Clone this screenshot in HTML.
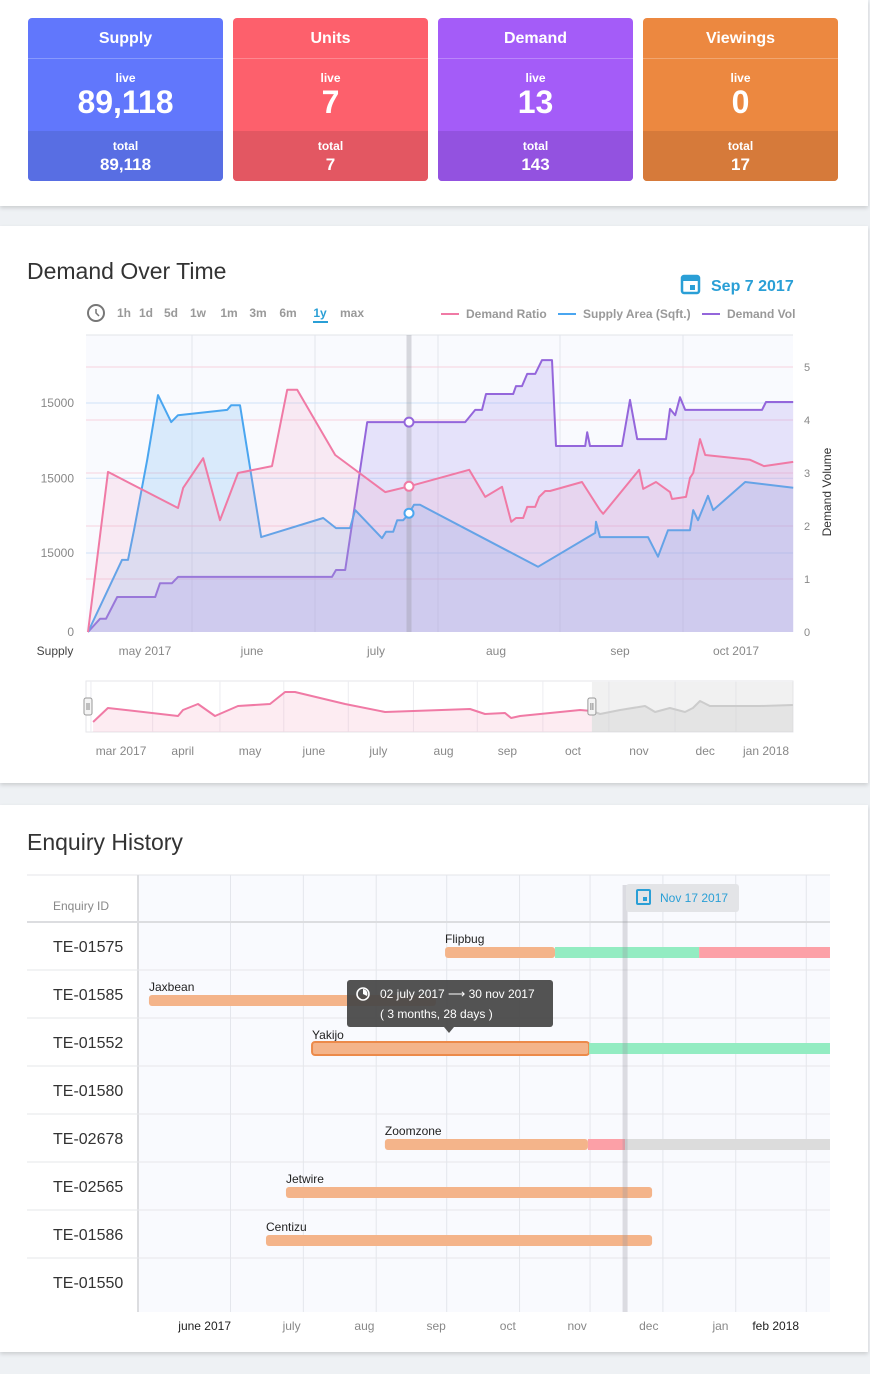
<!DOCTYPE html>
<html><head><meta charset="utf-8"><style>
*{box-sizing:border-box;margin:0;padding:0}
body{width:870px;height:1374px;background:#eef1f4;font-family:"Liberation Sans",sans-serif;position:relative;overflow:hidden}
.panel{position:absolute;left:0;width:868px;background:#fff;box-shadow:0 2px 4px rgba(0,0,0,.15)}
.card{position:absolute;top:18px;width:195px;height:163px;border-radius:4px;color:#fff;text-align:center;overflow:hidden}
.card .t{height:41px;line-height:42px;font-weight:bold;font-size:16px;border-bottom:1px solid rgba(255,255,255,.25)}
.card .l{font-size:12px;font-weight:bold;margin-top:12px}
.card .v{font-size:32px;font-weight:bold;line-height:34px}
.card .b{position:absolute;left:0;right:0;bottom:0;height:50px;padding-top:8px}
.card .b div{font-size:12px;font-weight:bold}
.card .b .n{font-size:17px;margin-top:2px}
h2{position:absolute;left:27px;font-weight:normal;font-size:23px;color:#333}
text{font-family:"Liberation Sans",sans-serif}
</style></head><body>
<div class="panel" style="top:0;height:206px">
 <div class="card" style="left:28px;background:#6177fc"><div class="t">Supply</div><div class="l">live</div><div class="v">89,118</div><div class="b" style="background:#586ee3"><div>total</div><div class="n">89,118</div></div></div>
 <div class="card" style="left:233px;background:#fd606c"><div class="t">Units</div><div class="l">live</div><div class="v">7</div><div class="b" style="background:#e35762"><div>total</div><div class="n">7</div></div></div>
 <div class="card" style="left:438px;background:#a45cf8"><div class="t">Demand</div><div class="l">live</div><div class="v">13</div><div class="b" style="background:#9352e0"><div>total</div><div class="n">143</div></div></div>
 <div class="card" style="left:643px;background:#ec8840"><div class="t">Viewings</div><div class="l">live</div><div class="v">0</div><div class="b" style="background:#d67a3a"><div>total</div><div class="n">17</div></div></div>
</div>
<div class="panel" style="top:226px;height:557px">
 <h2 style="top:32px">Demand Over Time</h2>
</div>
<div class="panel" style="top:805px;height:547px">
 <h2 style="top:24px">Enquiry History</h2>
</div>
<svg id="main" width="870" height="1374" style="position:absolute;left:0;top:0" xmlns="http://www.w3.org/2000/svg"></svg>
<script>
// ---- Demand chart data (x = days from start, y = right-axis units) ----
const pinkX=[0.5,5.5,23,24.3,29.3,33.5,38,46.5,50.3,52.8,62.3,74.8,80.8,95.8,99.8,104,106.3,107.5,109.3,110.3,112.3,113.3,114.8,116,124,128.5,129.3,138.3,139.3,142.5,146,146.5,150,151,151.8,153.5,154.8,166,169.5,176.8];
const pinkY=[0,3.02,2.34,2.72,3.28,2.11,3.0,3.13,4.57,4.57,3.34,2.64,2.75,3.06,2.55,2.74,2.08,2.15,2.15,2.36,2.36,2.55,2.66,2.66,2.83,2.30,2.23,3.06,2.70,2.83,2.64,2.51,2.55,2.91,3.0,3.64,3.34,3.25,3.13,3.21];
const blueX=[0.5,9,10.5,12,15.3,18,21.3,23,35.3,36.3,38.5,43.8,59.3,62.5,66,67.3,74,75,76.8,77.8,79.3,80.5,82,83.5,113,127.3,127.5,128.5,140.5,143,145.5,151,151.8,153,155.5,156.8,164.8,176.8];
const blueY=[0,1.36,1.36,1.92,3.25,4.47,3.96,4.09,4.19,4.28,4.28,1.79,2.15,1.96,1.96,2.30,1.77,1.89,1.89,2.11,2.11,2.21,2.40,2.40,1.23,1.87,2.08,1.79,1.79,1.42,1.92,1.92,2.30,2.11,2.57,2.30,2.83,2.72];
const purpX=[0.5,3.5,5,7.8,17.3,18.5,21.5,23,61.5,62.5,64.8,70.3,94.8,97.3,99,100,106.8,107.5,109,110.3,112.3,114,116.5,117.5,124.8,125.3,126,134,136,137.8,145,146,147.3,148.5,149.8,169,170,176.8];
const purpY=[0,0.25,0.25,0.66,0.66,0.92,0.92,1.04,1.04,1.17,1.17,3.96,3.96,4.19,4.19,4.49,4.49,4.64,4.64,4.87,4.87,5.13,5.13,3.51,3.51,3.77,3.51,3.51,4.38,3.64,3.64,4.21,4.09,4.43,4.19,4.19,4.34,4.34];
const rightTicks=[0,1,2,3,4,5];
const leftTickVals=[0,1.49,2.9,4.32];
const leftTickLabels=["0","15000","15000","15000"];
const monthDays=[14.75,41.5,72.5,102.5,133.5,162.5];
const monthLabels=["may 2017","june","july","aug","sep","oct 2017"];
const gridDays=[26.5,57.25,88,118.5,149.25];
const cursorDay=80.75;
// navigator
const navX=[3.3,10.2,42.8,45.1,52.1,60,70.7,85.6,92.6,97.2,120.5,139.1,178.6,185.6,194.9,197.7,201.9,211.2,220.5,229.8,235.3,239.1,248.4,260,264.7,271.6,278.6,282.3,285.6,290.2,313.5,328.8];
const navY=[1.22,2.93,1.95,2.68,3.41,1.95,3.17,3.41,4.88,4.88,3.41,2.44,2.80,2.20,2.32,1.71,1.95,2.20,2.44,2.68,2.56,2.20,2.68,3.17,2.44,2.93,2.44,2.93,3.78,3.17,3.17,3.29];
const navSelEnd=235.3;
const navMonthDays=[16.3,45,76.3,106,136,166.3,196,226.5,257.2,288,316.3];
const navMonthLabels=["mar 2017","april","may","june","july","aug","sep","oct","nov","dec","jan 2018"];
// ---- Gantt data (days from Jun 1 2017) ----
const rowIds=["TE-01575","TE-01585","TE-01552","TE-01580","TE-02678","TE-02565","TE-01586","TE-01550"];
const barNames=["Flipbug","Jaxbean","Yakijo","","Zoomzone","Jetwire","Centizu",""];
const barRow=[0,0,0,1,2,2,4,4,4,5,6];
const barStart=[121.3,168.1,229.4,-4.7,64.7,182.6,95.7,182.1,197.9,53.6,45.1];
const barEnd=[168.1,229.4,285.1,117.4,182.6,285.1,182.1,197.9,285.1,209.4,209.4];
const barKind=["o","g","r","o","sel","g","o","r","x","o","o"];
const gMonthDays=[19,56,87,117.5,148,177.5,208,238.5,262];
const gMonthLabels=["june 2017","july","aug","sep","oct","nov","dec","jan","feb 2018"];
const gGridDays=[30,61,92,122,153,183,214,245,275];
const todayDay=197.9;

const svg=document.getElementById('main');
const NS='http://www.w3.org/2000/svg';
function mk(tag,attrs,parent){const e=document.createElementNS(NS,tag);for(const k in attrs)e.setAttribute(k,attrs[k]);(parent||svg).appendChild(e);return e;}
function tx(x,y,s,attrs){const e=mk('text',Object.assign({x:x,y:y},attrs));e.textContent=s;return e;}

const X0=86,X1=793,Y0=632;
const xs=d=>X0+d*4.0, ys=v=>Y0-v*53;
let e=mk('rect',{x:X0,y:335,width:X1-X0,height:Y0-335,fill:'#f9fafe'});


mk('line',{x1:X0,y1:335,x2:X1,y2:335,stroke:'#e2e4e8'});
gridDays.forEach(d=>{const l=mk('line',{x1:xs(d),y1:335,x2:xs(d),y2:Y0,stroke:'#e3e5ec'});});
rightTicks.forEach(v=>{if(v>0){const l=mk('line',{x1:X0,y1:ys(v),x2:X1,y2:ys(v),stroke:'#f6d3df'});}
 const t=tx(804,ys(v)+4,String(v),{'font-size':11,fill:'#888'});});
leftTickVals.forEach((v,i)=>{if(v>0)mk('line',{x1:X0,y1:ys(v),x2:X1,y2:ys(v),stroke:'#cfe3f8'});
 const t=tx(74,ys(v)+4,leftTickLabels[i],{'font-size':12,fill:'#888','text-anchor':'end'});});
monthDays.forEach((d,i)=>{const t=tx(xs(d),655,monthLabels[i],{'font-size':12,fill:'#888','text-anchor':'middle'});});
e=tx(55,655,'Supply',{'font-size':12,fill:'#444','text-anchor':'middle'});
e=tx(0,0,'Demand Volume',{'font-size':12,fill:'#333','text-anchor':'middle',transform:'translate(831,492) rotate(-90)'});

function series(X,Y,stroke,fill,name,sx,sy,base){
 let p=X.map((x,i)=>(i?'L':'M')+sx(x).toFixed(1)+','+sy(Y[i]).toFixed(1)).join('');
 const a=mk('path',{d:p+'L'+sx(X[X.length-1])+','+base+'L'+sx(X[0])+','+base+'Z',fill:fill});
 
 const l=mk('path',{d:p,fill:'none',stroke:stroke,'stroke-width':2,'stroke-linejoin':'round'});
 
}
series(purpX,purpY,'#9466db','rgba(160,140,235,0.22)','demand-vol',xs,ys,Y0);
series(blueX,blueY,'#4aa6f0','rgba(90,170,240,0.2)','supply-area',xs,ys,Y0);
series(pinkX,pinkY,'#f07aa5','rgba(245,150,185,0.16)','demand-ratio',xs,ys,Y0);
e=mk('rect',{x:xs(cursorDay)-2.5,y:335,width:5,height:Y0-335,fill:'rgba(150,150,160,0.35)'});
function interp(X,Y,d){for(let i=1;i<X.length;i++)if(X[i]>=d){const t=(d-X[i-1])/(X[i]-X[i-1]);return Y[i-1]+t*(Y[i]-Y[i-1]);}return Y[Y.length-1];}
[[purpX,purpY,'#9466db'],[pinkX,pinkY,'#f07aa5'],[blueX,blueY,'#4aa6f0']].forEach(s=>{const c=mk('circle',{cx:xs(cursorDay),cy:ys(interp(s[0],s[1],cursorDay)),r:4.5,fill:'#fff',stroke:s[2],'stroke-width':2});});

e=mk('circle',{cx:96,cy:313,r:8,fill:'none',stroke:'#777','stroke-width':2});
mk('path',{d:'M96,309 L96,313 L99,316',stroke:'#777','stroke-width':1.5,fill:'none'});
[['1h',124],['1d',146],['5d',171],['1w',198],['1m',229],['3m',258],['6m',288],['1y',320],['max',352]].forEach(b=>{const t=tx(b[1],317,b[0],{'font-size':12,fill:b[0]=='1y'?'#2a9fd6':'#999','text-anchor':'middle','font-weight':'bold'});});
mk('rect',{x:313,y:321,width:15,height:2,fill:'#2a9fd6'});
[['Demand Ratio','#f07aa5',441],['Supply Area (Sqft.)','#4aa6f0',558],['Demand Vol','#9466db',702]].forEach(l=>{const g=mk('g',{});mk('rect',{x:l[2],y:313,width:18,height:2,fill:l[1]},g);const t=mk('text',{x:l[2]+25,y:318,'font-size':12,fill:'#999','font-weight':'bold'},g);t.textContent=l[0];});
e=mk('g',{});
mk('rect',{x:682,y:276,width:17,height:17,rx:2,fill:'none',stroke:'#2a9fd6','stroke-width':2.5},e);mk('rect',{x:682,y:276,width:17,height:5,fill:'#2a9fd6'},e);mk('rect',{x:690,y:285,width:5,height:5,fill:'#2a9fd6'},e);
const dt=mk('text',{x:711,y:291,'font-size':16,fill:'#2a9fd6','font-weight':'bold'},e);dt.textContent='Sep 7 2017';

const nxs=d=>X0+d*2.15, nys=v=>732-v*8.2;
e=mk('rect',{x:X0,y:681,width:X1-X0,height:51,fill:'#fff',stroke:'#e6e6ea'});
navMonthDays.forEach(d=>{if(d>5)mk('line',{x1:nxs(d-14),y1:681,x2:nxs(d-14),y2:732,stroke:'#ececf0'});});
mk('rect',{x:nxs(navSelEnd),y:682,width:X1-nxs(navSelEnd),height:50,fill:'rgba(220,220,220,0.4)'});
let k=navX.findIndex(x=>x>=navSelEnd);
series(navX.slice(0,k+1),navY.slice(0,k+1),'#f07aa5','rgba(245,150,185,0.18)','navigator-ratio',nxs,nys,732);
series(navX.slice(k),navY.slice(k),'#ccc','rgba(200,200,200,0.3)','navigator-ratio-out',nxs,nys,732);
[X0+2,nxs(navSelEnd)].forEach(x=>{const h=mk('rect',{x:x-4,y:698,width:8,height:17,rx:2,fill:'#f4f4f4',stroke:'#999'});mk('line',{x1:x-1,y1:703,x2:x-1,y2:710,stroke:'#888'});mk('line',{x1:x+1,y1:703,x2:x+1,y2:710,stroke:'#888'});});
navMonthDays.forEach((d,i)=>{const t=tx(nxs(d),755,navMonthLabels[i],{'font-size':12,fill:'#888','text-anchor':'middle'});});

const gx=d=>160+d*2.35, GX1=830, HY=922, RH=48;
e=mk('rect',{x:138,y:875,width:GX1-138,height:437,fill:'#f9fafe'});
mk('line',{x1:27,y1:875,x2:GX1,y2:875,stroke:'#e4e6ea'});
gGridDays.forEach(d=>{if(gx(d)<GX1)mk('line',{x1:gx(d),y1:875,x2:gx(d),y2:1312,stroke:'#e4e6ec'});});
mk('line',{x1:138,y1:875,x2:138,y2:1312,stroke:'#dcdde0','stroke-width':2});
mk('line',{x1:27,y1:HY,x2:GX1,y2:HY,stroke:'#dcdde0','stroke-width':2});
e=tx(53,910,'Enquiry ID',{'font-size':12,fill:'#888'});
rowIds.forEach((id,i)=>{const y=HY+i*RH;if(i)mk('line',{x1:27,y1:y,x2:GX1,y2:y,stroke:'#e6e7ea'});
 const t=tx(53,y+30,id,{'font-size':16,fill:'#333'});
 if(barNames[i]){const n=tx(0,0,barNames[i],{'font-size':12,fill:'#222'});
  const bi=barRow.indexOf(i);n.setAttribute('x',Math.max(gx(barStart[bi]),149));n.setAttribute('y',y+21);}
});
const colors={o:'#f4b48a',g:'#93ecc2',r:'#fca0a7',x:'#dcdcdc',sel:'#f4b48a'};
barStart.forEach((s,i)=>{const y=HY+barRow[i]*RH+25;const x0=gx(s),x1=Math.min(gx(barEnd[i]),GX1);
 const r=mk('rect',{x:x0,y:y,width:x1-x0,height:11,fill:colors[barKind[i]],rx:(barKind[i]=='o'||barKind[i]=='sel')&&(i==0||barStart[i]!=barEnd[i-1])?3:0});
 if(barKind[i]=='sel'){r.setAttribute('stroke','#ec8a4a');r.setAttribute('stroke-width',2);r.setAttribute('y',y-1);r.setAttribute('height',13);}
 
 });
e=mk('rect',{x:gx(todayDay)-2.5,y:885,width:5,height:427,fill:'rgba(150,150,160,0.3)'});
e=mk('g',{});
mk('rect',{x:626,y:884,width:113,height:28,rx:3,fill:'#e3e4e7'},e);
mk('rect',{x:637,y:890,width:13,height:14,rx:1,fill:'none',stroke:'#2a9fd6','stroke-width':2},e);mk('rect',{x:643,y:897,width:4,height:4,fill:'#2a9fd6'},e);
const bt=mk('text',{x:660,y:902,'font-size':12,fill:'#2a9fd6'},e);bt.textContent='Nov 17 2017';
gMonthDays.forEach((d,i)=>{const t=tx(gx(d),1330,gMonthLabels[i],{'font-size':12,fill:i==0||i==8?'#222':'#888','text-anchor':'middle'});});
e=mk('g',{});
mk('rect',{x:347,y:980,width:206,height:47,rx:3,fill:'rgba(70,70,70,0.93)'},e);
mk('path',{d:'M444,1027 L449,1033 L454,1027Z',fill:'rgba(70,70,70,0.93)'},e);
mk('circle',{cx:363,cy:994,r:6,fill:'none',stroke:'#fff','stroke-width':1.6},e);
mk('path',{d:'M363,994 L363,989 A5,5 0 0 1 367,996Z',fill:'#fff'},e);
let t1=mk('text',{x:380,y:998,'font-size':12,fill:'#fff'},e);t1.textContent='02 july 2017  ⟶  30 nov 2017';
let t2=mk('text',{x:380,y:1018,'font-size':12,fill:'#fff'},e);t2.textContent='( 3 months, 28 days )';
</script>
</body></html>
